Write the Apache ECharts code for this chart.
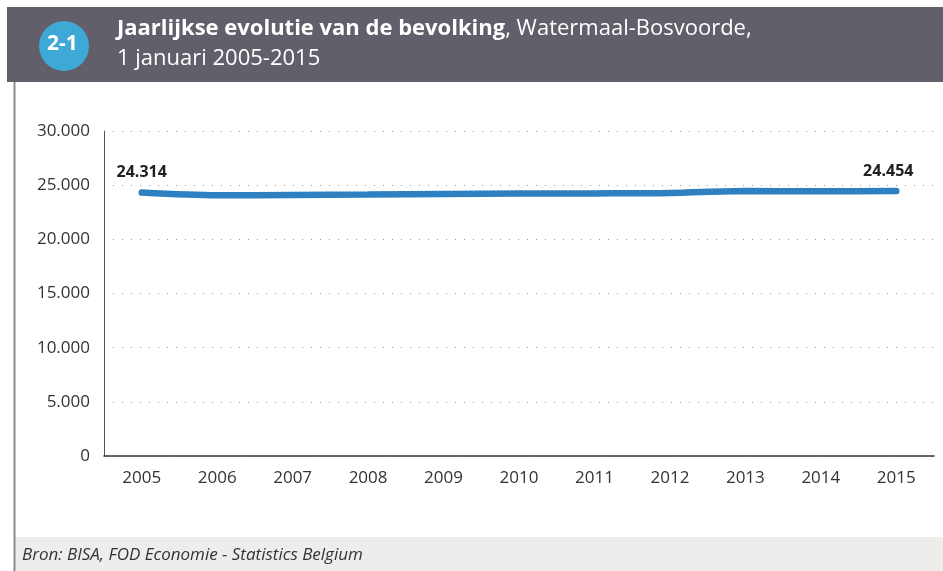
<!DOCTYPE html>
<html>
<head>
<meta charset="utf-8">
<script src="https://cdn.jsdelivr.net/npm/echarts@6/dist/echarts.min.js"></script>
<style>
    html, body { margin: 0; padding: 0; background: #fff; }
    #chart { width: 943px; height: 571px; }
</style>
</head>
<body>
<div id="chart"></div>
<script>
    // jaren en bevolking op 1 januari
    var years = ['2005', '2006', '2007', '2008', '2009', '2010', '2011', '2012', '2013', '2014', '2015']
    var population = [24314, 24065, 24100, 24130, 24180, 24230, 24240, 24280, 24470, 24430, 24454]
    var yTicks = [0, 5000, 10000, 15000, 20000, 25000, 30000]

    var font = '"Open Sans", sans-serif'

    // 24314 -> 24.314
    function dots(v) {
        return String(v).replace(/\B(?=(\d{3})+(?!\d))/g, '.')
    }

    var myChart = echarts.init(document.getElementById('chart'))

    var option = {
        animation: false,
        grid: { left: 104, right: 9, top: 131, bottom: 115 },
        xAxis: {
            type: 'category',
            data: years,
            axisLine: { lineStyle: { color: '#333', width: 1.5 } },
            axisTick: { alignWithLabel: true, inside: true, length: 6, lineStyle: { color: '#333' } },
            axisLabel: { color: '#333', fontSize: 17, fontFamily: font, margin: 14 }
        },
        yAxis: {
            type: 'value',
            min: yTicks[0],
            max: yTicks[yTicks.length - 1],
            interval: 5000,
            axisLine: { show: true, lineStyle: { color: '#555', width: 1 } },
            axisTick: { show: false },
            axisLabel: { color: '#333', fontSize: 17, fontFamily: font, margin: 14, formatter: dots },
            splitLine: { lineStyle: { color: '#999', type: [1, 8], width: 1 } }
        },
        series: [{
            type: 'line',
            data: population,
            smooth: 0.3,
            symbol: 'none',
            lineStyle: { color: '#2f80c0', width: 6.5, cap: 'round' },
            label: { show: false },
            markPoint: {
                symbol: 'circle',
                symbolSize: 0,
                label: {
                    show: true,
                    position: 'top',
                    distance: 12,
                    color: '#222',
                    fontSize: 16,
                    fontWeight: 'bold',
                    fontFamily: font,
                    formatter: function (p) { return dots(p.value) }
                },
                data: [
                    { coord: [0, population[0]], value: population[0] },
                    { coord: [years.length - 1, population[population.length - 1]], value: population[population.length - 1],
                      label: { offset: [-8, 0] } }
                ]
            }
        }],
        graphic: [
            { type: 'rect', shape: { x: 7, y: 7, width: 936, height: 75 }, style: { fill: '#625f6a' }, z: 0 },
            { type: 'circle', shape: { cx: 64, cy: 46, r: 25 }, style: { fill: '#3ea8d6' } },
            { type: 'text', left: 47, top: 34, style: { text: '2-1', fill: '#fff', font: 'bold 21px ' + font } },
            {
                type: 'text', left: 117, top: 14,
                style: {
                    text: '{b|Jaarlijkse evolutie van de bevolking}{n|, Watermaal-Bosvoorde,}\n{n|1 januari 2005-2015}',
                    fill: '#fff',
                    lineHeight: 30,
                    rich: {
                        b: { fill: '#fff', font: 'bold 22px ' + font, lineHeight: 30 },
                        n: { fill: '#fff', font: '22px ' + font, lineHeight: 30 }
                    }
                }
            },
            { type: 'rect', shape: { x: 14, y: 537, width: 929, height: 34 }, style: { fill: '#ededec' } },
            { type: 'line', shape: { x1: 14.5, y1: 82, x2: 14.5, y2: 571 }, style: { stroke: '#8c8a92', lineWidth: 2 } },
            { type: 'text', left: 22, top: 547, style: { text: 'Bron: BISA, FOD Economie - Statistics Belgium', fill: '#333', font: 'italic 17px ' + font } }
        ]
    }

    myChart.setOption(option)
</script>
</body>
</html>
